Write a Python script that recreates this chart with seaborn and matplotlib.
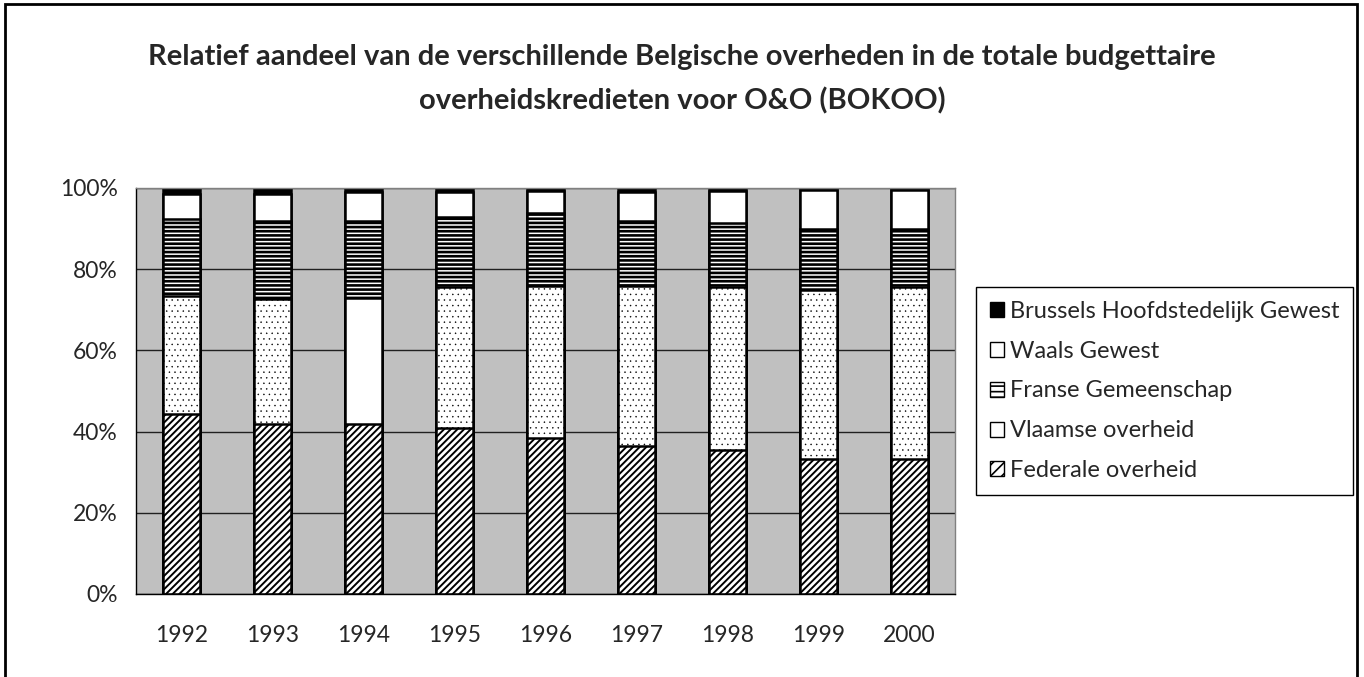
import pandas as pd
import seaborn as sns
import matplotlib.pyplot as plt
import matplotlib.patches as mpatches
from matplotlib.ticker import FixedLocator, PercentFormatter

years = ["1992", "1993", "1994", "1995", "1996", "1997", "1998", "1999", "2000"]
federale = [44.3, 41.9, 41.8, 40.9, 38.4, 36.5, 35.5, 33.2, 33.2]
vlaamse = [29.1, 30.8, 31.2, 34.7, 37.5, 39.4, 40.1, 41.7, 42.4]
franse = [19.0, 19.2, 18.9, 17.3, 17.9, 16.0, 15.8, 15.0, 14.3]
waals = [6.1, 6.6, 7.1, 6.1, 5.5, 7.1, 7.9, 9.6, 9.6]
brussels = [1.5, 1.5, 1.0, 1.0, 0.7, 1.0, 0.7, 0.5, 0.5]

series = ["Federale overheid", "Vlaamse overheid", "Franse Gemeenschap",
          "Waals Gewest", "Brussels Hoofdstedelijk Gewest"]


def main():
    df = pd.DataFrame({
        "jaar": years,
        series[0]: federale,
        series[1]: vlaamse,
        series[2]: franse,
        series[3]: waals,
        series[4]: brussels,
    }).set_index("jaar")
    # normalise to 100% and stack
    df = df.div(df.sum(axis=1), axis=0) * 100
    cum = df.cumsum(axis=1).reset_index()

    sns.set_style("white")
    plt.rcParams["font.family"] = ["Lato", "DejaVu Sans"]
    plt.rcParams["hatch.color"] = "black"

    fig = plt.figure(figsize=(13.64, 6.77), dpi=100)
    ax = fig.add_axes([136 / 1364, 1 - 594 / 677, (955 - 136) / 1364, (594 - 188) / 677])
    ax.set_facecolor("#C0C0C0")

    styles = {
        series[4]: dict(color="black", hatch=None, hlw=1.0),
        series[3]: dict(color="white", hatch=None, hlw=1.0),
        series[2]: dict(color="white", hatch="----", hlw=1.9),
        series[1]: dict(color="white", hatch="...", hlw=0.3),
        series[0]: dict(color="white", hatch="/////", hlw=1.4),
    }

    # draw from the top layer down so each segment covers the next
    for name in reversed(series):
        st = styles[name]
        plt.rcParams["hatch.linewidth"] = st["hlw"]
        kw = {}
        if st["hatch"]:
            kw["hatch"] = st["hatch"]
        sns.barplot(data=cum, x="jaar", y=name, color=st["color"], saturation=1,
                    width=0.4, edgecolor="black", linewidth=1.8, errorbar=None,
                    ax=ax, zorder=2, **kw)
        if name == series[1]:
            # 1994 segment has no dots in the original
            ax.patches[-7].set_hatch(None)

    ax.set_ylim(0, 100)
    ax.set_xlim(-0.5, len(years) - 0.5)
    ax.yaxis.set_major_locator(FixedLocator([0, 20, 40, 60, 80, 100]))
    ax.yaxis.set_major_formatter(PercentFormatter(decimals=0))
    ax.yaxis.grid(True, color="#202020", linewidth=1.0, zorder=0)
    ax.set_axisbelow(True)
    ax.set_xlabel("")
    ax.set_ylabel("")

    ax.set_xticks(range(len(years)))
    ax.set_xticklabels(years)
    ax.set_xticks([i - 0.5 for i in range(len(years) + 1)], minor=True)
    ax.tick_params(axis="x", which="major", length=0, pad=22, labelsize=16.5)
    ax.tick_params(axis="x", which="minor", length=8, width=1, color="black", direction="out")
    ax.tick_params(axis="y", length=8, width=1, color="black", direction="out", pad=5, labelsize=16.5)

    for side in ["left", "bottom"]:
        ax.spines[side].set_color("black")
        ax.spines[side].set_linewidth(1.0)
    for side in ["top", "right"]:
        ax.spines[side].set_color("#808080")
        ax.spines[side].set_linewidth(1.0)

    plt.rcParams["hatch.linewidth"] = 1.2
    handles = []
    for name in reversed(series):
        st = styles[name]
        h = st["hatch"] if name != series[1] else None
        if h == "/////":
            h = "///"
        if h == "----":
            h = "---"
        handles.append(mpatches.Patch(facecolor=st["color"], edgecolor="black",
                                      hatch=h, linewidth=1.0, label=name))
    leg = ax.legend(handles=handles, loc="upper left",
                    bbox_to_anchor=(976 / 1364, 1 - 287 / 677),
                    bbox_transform=fig.transFigure, borderaxespad=0,
                    fancybox=False, framealpha=1, edgecolor="black",
                    fontsize=17, labelspacing=0.8, handlelength=0.6,
                    handleheight=0.6, handletextpad=0.25, borderpad=0.58)
    leg.get_frame().set_linewidth(1.0)

    fig.text(0.5, 1 - 57 / 677, "Relatief aandeel van de verschillende Belgische overheden in de totale budgettaire",
             ha="center", va="center", fontsize=21, fontweight="bold")
    fig.text(0.5, 1 - 101 / 677, "overheidskredieten voor O&O (BOKOO)",
             ha="center", va="center", fontsize=21, fontweight="bold")

    # outer frame around the whole chart
    frame = mpatches.Rectangle((5 / 1364, -0.02), (1357 - 5) / 1364, 1.02 - 4 / 677,
                               transform=fig.transFigure, fill=False,
                               edgecolor="black", linewidth=2)
    fig.patches.append(frame)

    fig.savefig("out.png", dpi=100)


if __name__ == "__main__":
    main()
